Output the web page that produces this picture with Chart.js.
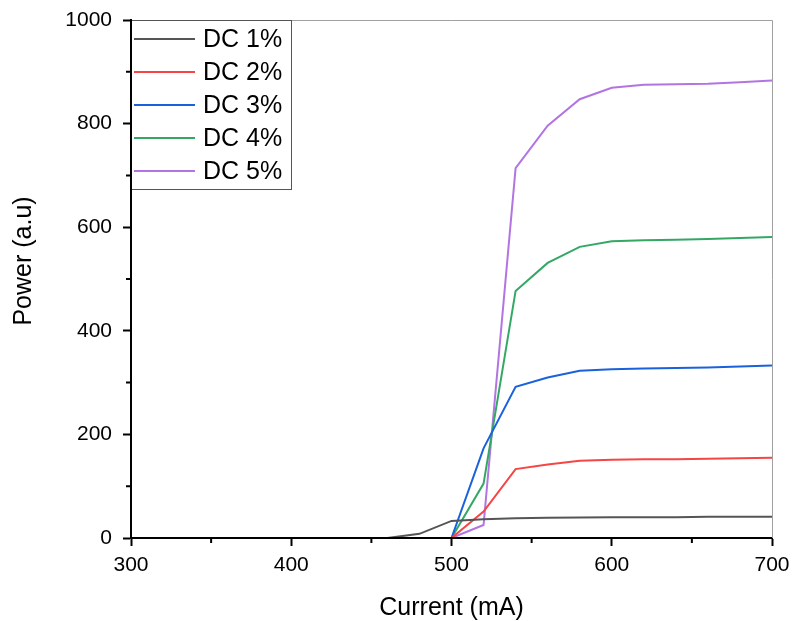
<!DOCTYPE html>
<html lang="en">
<head>
  <meta charset="UTF-8">
  <title>Power vs Current</title>
  <script src="https://cdn.jsdelivr.net/npm/chart.js"></script>
  <style>
    html, body { margin: 0; padding: 0; background: #fff; }
    canvas { display: block; }
  </style>
</head>
<body>
  <canvas id="grafica" width="792" height="621"></canvas>

  <script>
    // corriente (mA)
    const corriente = [300, 320, 340, 360, 380, 400, 420, 440, 460, 480, 500,
                       520, 540, 560, 580, 600, 620, 640, 660, 680, 700];

    const dc1 = [0, 0, 0, 0, 0, 0, 0, 0, 0, 8, 33, 36, 38, 39, 39.5, 40, 40, 40, 41, 41, 41];
    const dc2 = [0, 0, 0, 0, 0, 0, 0, 0, 0, 0, 0, 51, 133, 142, 149, 151, 152, 152, 153, 154, 155];
    const dc3 = [0, 0, 0, 0, 0, 0, 0, 0, 0, 0, 0, 173, 292, 310, 323, 326, 327, 328, 329, 331, 333];
    const dc4 = [0, 0, 0, 0, 0, 0, 0, 0, 0, 0, 0, 105, 477, 531, 562, 573, 575, 576, 577, 579, 581];
    const dc5 = [0, 0, 0, 0, 0, 0, 0, 0, 0, 0, 0, 25, 714, 796, 847, 869, 875, 876, 877, 880, 883];

    const etiquetas = ['DC 1%', 'DC 2%', 'DC 3%', 'DC 4%', 'DC 5%'];
    const colores = ['#555555', '#f54545', '#1a62dc', '#33a865', '#b274e2'];

    const series = [dc1, dc2, dc3, dc4, dc5];
    const FUENTE = '"Liberation Sans", Arial, sans-serif';

    // ticks menores, marco gris, titulo Y y leyenda dentro del area
    const extras = {
      id: 'extras',
      afterDraw(chart) {
        const ctx = chart.ctx;
        const a = chart.chartArea;
        const sx = chart.scales.x;
        const sy = chart.scales.y;
        ctx.save();

        // marco superior y derecho
        ctx.strokeStyle = '#a0a0a0';
        ctx.lineWidth = 1;
        ctx.beginPath();
        ctx.moveTo(a.left, a.top + 0.5);
        ctx.lineTo(a.right + 0.5, a.top + 0.5);
        ctx.lineTo(a.right + 0.5, a.bottom);
        ctx.stroke();

        // ticks menores
        ctx.strokeStyle = '#000';
        ctx.lineWidth = 2;
        ctx.beginPath();
        [350, 450, 550, 650].forEach(v => {
          const px = sx.getPixelForValue(v);
          ctx.moveTo(px, a.bottom);
          ctx.lineTo(px, a.bottom + 5);
        });
        [100, 300, 500, 700, 900].forEach(v => {
          const py = sy.getPixelForValue(v);
          ctx.moveTo(a.left, py);
          ctx.lineTo(a.left - 5, py);
        });
        ctx.stroke();

        // titulo eje Y
        ctx.fillStyle = '#000';
        ctx.font = '25px ' + FUENTE;
        ctx.textAlign = 'center';
        ctx.textBaseline = 'middle';
        ctx.translate(24, 261);
        ctx.rotate(-Math.PI / 2);
        ctx.fillText('Power (a.u)', 0, 0);
        ctx.setTransform(1, 0, 0, 1, 0, 0);

        // leyenda
        const x0 = a.left, y0 = a.top;
        const w = 160, h = 169;
        ctx.fillStyle = '#fff';
        ctx.fillRect(x0, y0, w, h);
        ctx.strokeStyle = '#555';
        ctx.lineWidth = 1;
        ctx.strokeRect(x0 + 0.5, y0 + 0.5, w, h);
        ctx.font = '25px ' + FUENTE;
        ctx.textAlign = 'left';
        ctx.textBaseline = 'middle';
        chart.data.datasets.forEach((ds, i) => {
          const y = y0 + 19 + i * 33;
          ctx.strokeStyle = ds.borderColor;
          ctx.lineWidth = 2;
          ctx.beginPath();
          ctx.moveTo(x0 + 3, y);
          ctx.lineTo(x0 + 64, y);
          ctx.stroke();
          ctx.fillStyle = '#000';
          ctx.fillText(ds.label, x0 + 72, y + 1);
        });

        // redibujar ejes encima
        ctx.strokeStyle = '#000';
        ctx.lineWidth = 2;
        ctx.beginPath();
        ctx.moveTo(a.left, a.top);
        ctx.lineTo(a.left, a.bottom);
        ctx.lineTo(a.right, a.bottom);
        ctx.stroke();
        ctx.restore();
      }
    };

    const ctx = document.getElementById('grafica').getContext('2d');
    new Chart(ctx, {
      type: 'line',
      data: {
        datasets: series.map((s, i) => ({
          label: etiquetas[i],
          data: corriente.map((c, j) => ({ x: c, y: s[j] })),
          borderColor: colores[i],
          backgroundColor: colores[i],
          borderWidth: 2,
          pointRadius: 0,
          tension: 0,
          fill: false
        }))
      },
      options: {
        responsive: false,
        animation: false,
        devicePixelRatio: 1,
        layout: { padding: { top: 20, right: 20, left: 0, bottom: 0 } },
        plugins: {
          legend: { display: false },
          tooltip: { enabled: false }
        },
        scales: {
          x: {
            type: 'linear',
            min: 300,
            max: 700,
            afterFit: s => { s.height = 83; s.paddingLeft = 0; s.paddingRight = 0; },
            ticks: {
              stepSize: 100,
              color: '#000',
              font: { size: 21, family: FUENTE },
              padding: 7,
              maxRotation: 0,
              callback: v => String(v)
            },
            grid: { drawOnChartArea: false, tickLength: 8, tickColor: '#000', tickWidth: 2 },
            border: { color: '#000', width: 2 },
            title: {
              display: true,
              text: 'Current (mA)',
              color: '#000',
              font: { size: 25, family: FUENTE, lineHeight: 1 },
              padding: { top: 0, bottom: 0 }
            }
          },
          y: {
            min: 0,
            max: 1000,
            afterFit: s => { s.width = 131; s.paddingTop = 0; s.paddingBottom = 0; },
            ticks: {
              stepSize: 200,
              color: '#000',
              font: { size: 21, family: FUENTE },
              padding: 11,
              callback: v => String(v)
            },
            grid: { drawOnChartArea: false, tickLength: 8, tickColor: '#000', tickWidth: 2 },
            border: { color: '#000', width: 2 },
            title: { display: false }
          }
        }
      },
      plugins: [extras]
    });
  </script>
</body>
</html>
